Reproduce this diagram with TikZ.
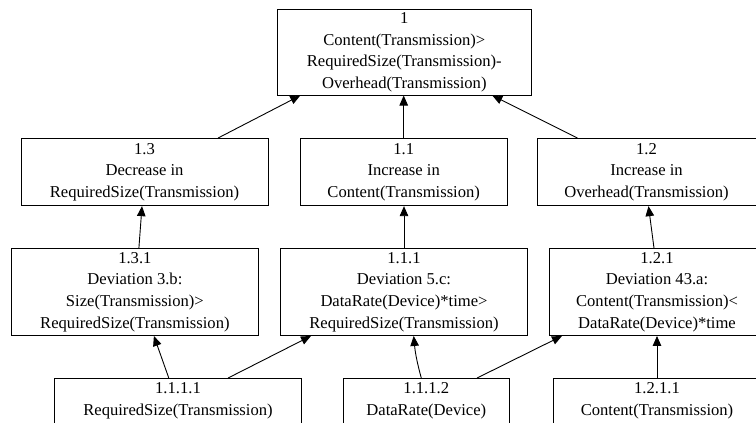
\documentclass[tikz,border=0pt]{standalone}
\usepackage{fontspec}
\setmainfont{Liberation Serif}
\usetikzlibrary{arrows.meta}

\begin{document}
\begin{tikzpicture}[x=1pt, y=-1pt,
    goal/.style={draw, line width=0.9pt, rectangle, align=center, inner sep=0pt,
                 font=\fontsize{16.6}{21.7}\selectfont},
    link/.style={-{Triangle[length=10pt,width=8.5pt]}, line width=0.9pt}]
    \useasboundingbox (0,0) rectangle (756,423);
    \clip (0,0) rectangle (756,423);
    % Top goal
    \node[goal, minimum width=254.7, minimum height=85.7] (g1) at (404.3,52.2)
        {1\\Content(Transmission)>\\RequiredSize(Transmission)-\\Overhead(Transmission)};
    % Second row
    \node[goal, minimum width=247, minimum height=67.2] (g13) at (144.5,172.1)
        {1.3\\Decrease in\\RequiredSize(Transmission)};
    \node[goal, minimum width=206.7, minimum height=67.2] (g11) at (403.7,172.1)
        {1.1\\Increase in\\Content(Transmission)};
    \node[goal, minimum width=219, minimum height=67.2] (g12) at (646.5,172.1)
        {1.2\\Increase in\\Overhead(Transmission)};
    % Deviations
    \node[goal, minimum width=246.8, minimum height=87] (g131) at (134.9,292)
        {1.3.1\\Deviation 3.b:\\Size(Transmission)>\\RequiredSize(Transmission)};
    \node[goal, minimum width=247.4, minimum height=87] (g111) at (404,292)
        {1.1.1\\Deviation 5.c:\\DataRate(Device)*time>\\RequiredSize(Transmission)};
    \node[goal, minimum width=216, minimum height=87] (g121) at (657,292)
        {1.2.1\\Deviation 43.a:\\Content(Transmission)<\\DataRate(Device)*time};
    % Bottom row
    \node[goal, minimum width=247.4, minimum height=45] (g1111) at (178,401)
        {1.1.1.1\\RequiredSize(Transmission)};
    \node[goal, minimum width=166, minimum height=45] (g1112) at (426.3,401)
        {1.1.1.2\\DataRate(Device)};
    \node[goal, minimum width=206.7, minimum height=45] (g1211) at (657,401)
        {1.2.1.1\\Content(Transmission)};
    % Arrows up to the top goal
    \draw[link] ([xshift=73.5]g13.north) -- ([xshift=-104]g1.south);
    \draw[link] (g11.north) -- (g11.north |- g1.south);
    \draw[link] ([xshift=-69]g12.north) -- ([xshift=88]g1.south);
    % Arrows to the second row
    \draw[link] ([xshift=4]g131.north) -- ([xshift=-2.5]g13.south);
    \draw[link] (g111.north) -- (g111.north |- g11.south);
    \draw[link] ([xshift=-3]g121.north) -- ([xshift=2]g12.south);
    % Arrows to the deviations
    \draw[link] ([xshift=-9.2]g1111.north) -- ([xshift=19]g131.south);
    \draw[link] ([xshift=50]g1111.north) -- ([xshift=-93]g111.south);
    \draw[link] ([xshift=-5]g1112.north) to[bend left=5] ([xshift=9.7]g111.south);
    \draw[link] ([xshift=50.7]g1112.north) -- ([xshift=-95]g121.south);
    \draw[link] (g1211.north) -- (g121.south);
\end{tikzpicture}
\end{document}
